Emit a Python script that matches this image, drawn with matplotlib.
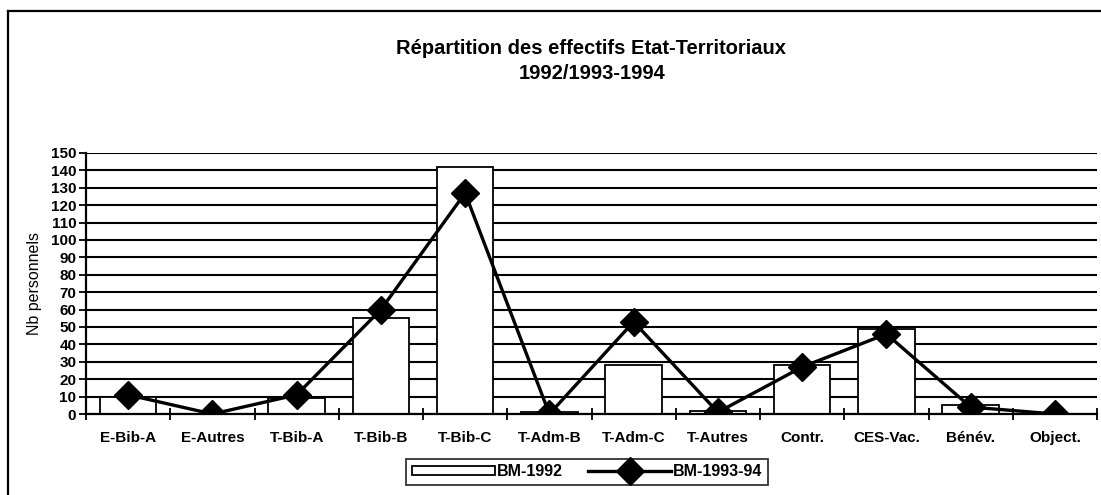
import matplotlib
matplotlib.use("Agg")
import matplotlib.pyplot as plt
from matplotlib.lines import Line2D
import numpy as np

categories = ["E-Bib-A", "E-Autres", "T-Bib-A", "T-Bib-B", "T-Bib-C", "T-Adm-B",
              "T-Adm-C", "T-Autres", "Contr.", "CES-Vac.", "Bénév.", "Object."]
bm_1992 = [10, 0, 9, 55, 142, 1, 28, 2, 28, 49, 5, 0]
bm_1993_94 = [11, 0, 11, 60, 127, 0, 53, 1, 27, 46, 4, 0]
yticks = list(range(0, 151, 10))

plt.rcParams['font.family'] = ['Liberation Sans', 'DejaVu Sans']

fig = plt.figure(figsize=(11.01, 4.95), dpi=100)
W, H = 1101, 495

# outer frame (left and top visible)
fig.add_artist(Line2D([8 / W, 8 / W], [0, 1 - 11 / H], transform=fig.transFigure,
                      color='black', lw=1.6))
fig.add_artist(Line2D([8 / W, 1], [1 - 11 / H, 1 - 11 / H], transform=fig.transFigure,
                      color='black', lw=1.6))

ax = fig.add_axes([86 / W, 1 - 414 / H, (1097 - 86) / W, (414 - 153) / H])
x = np.arange(len(categories))

bars = ax.bar(x, bm_1992, width=0.67, color='white', edgecolor='black', linewidth=1.3,
              zorder=2, label='BM-1992')
line, = ax.plot(x, bm_1993_94, color='black', lw=2.4, marker='D', markersize=14,
                markerfacecolor='black', zorder=3, label='BM-1993-94')

ax.set_xlim(-0.5, len(categories) - 0.5)
ax.set_ylim(0, 150)
ax.set_yticks(yticks)
ax.set_yticklabels([str(v) for v in yticks], fontsize=11, fontweight='bold')
ax.yaxis.grid(True, color='black', lw=1.5)
ax.set_axisbelow(True)

ax.set_xticks(x)
ax.set_xticklabels(categories, fontsize=11, fontweight='bold')
ax.tick_params(axis='x', which='major', length=0, pad=12)
ax.set_xticks(np.arange(-0.5, len(categories), 1.0), minor=True)
ax.tick_params(axis='x', which='minor', direction='inout', length=9, width=1.3)
ax.tick_params(axis='y', direction='out', length=5, width=1.3, pad=2)

for s in ['top', 'right']:
    ax.spines[s].set_visible(False)
ax.spines['left'].set_linewidth(1.6)
ax.spines['bottom'].set_linewidth(1.6)

ax.set_ylabel('Nb personnels', fontsize=11.5, labelpad=6)

fig.text(591 / W, 1 - 49 / H, 'Répartition des effectifs Etat-Territoriaux',
         ha='center', va='center', fontsize=14.5, fontweight='bold')
fig.text(592 / W, 1 - 73 / H, '1992/1993-1994',
         ha='center', va='center', fontsize=14.5, fontweight='bold')

leg = fig.legend([bars, line], ['BM-1992', 'BM-1993-94'], loc='center',
                 bbox_to_anchor=(587 / W, 1 - 472 / H), ncol=2,
                 frameon=True, fancybox=False, edgecolor='black',
                 prop={'weight': 'bold', 'size': 11.5}, handlelength=5.2,
                 handleheight=0.5, handletextpad=0.1, columnspacing=1.6,
                 borderpad=0.35, markerscale=1.0)
leg.get_frame().set_linewidth(1.3)

fig.savefig('out.png', dpi=100)
